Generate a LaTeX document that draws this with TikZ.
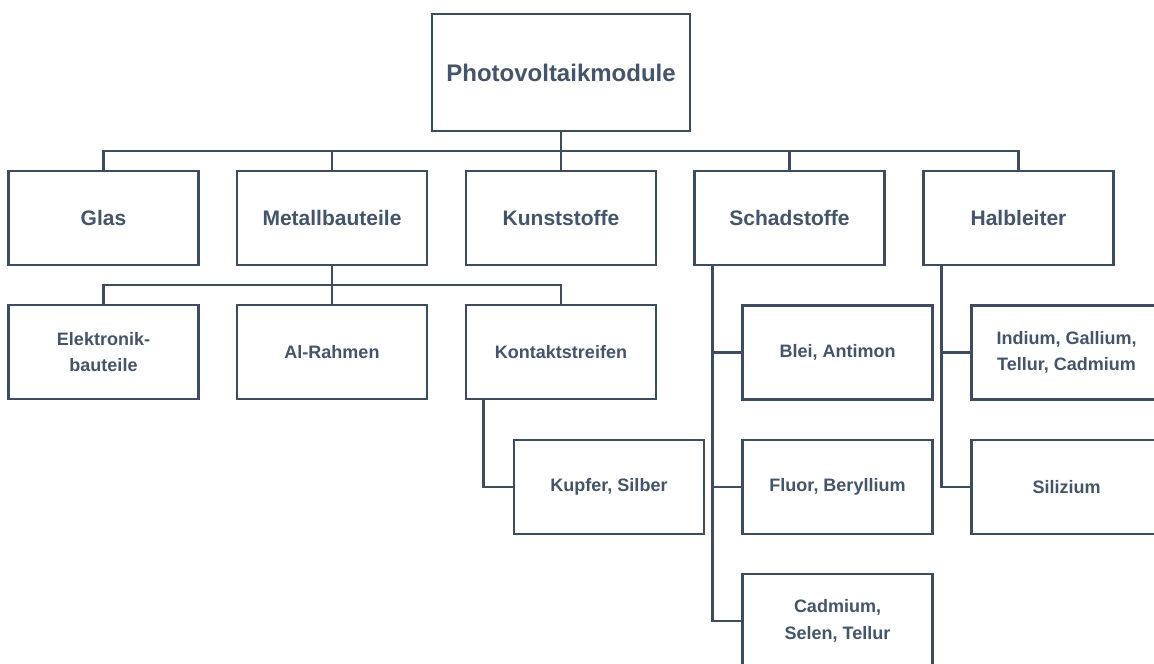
\documentclass[tikz,border=0pt]{standalone}
\usepackage{fontspec}
\setmainfont{Liberation Sans}
\definecolor{slate}{HTML}{44546A}
\definecolor{slateline}{HTML}{3E4C60}
\tikzset{
  box/.style={draw=slateline, line width=2.6pt, fill=white, text=slate, align=center,
    minimum width=190pt, minimum height=94pt, inner sep=0pt, font=\bfseries\fontsize{18}{26.5}\selectfont},
  topbox/.style={box, minimum width=258pt, minimum height=117pt, font=\bfseries\fontsize{24}{28}\selectfont},
  midbox/.style={box, font=\bfseries\fontsize{21}{25}\selectfont},
  conn/.style={draw=slateline, line width=2.6pt}
}
\begin{document}
\begin{tikzpicture}[x=1pt,y=-1pt]
\useasboundingbox (0,0) rectangle (1154,664);
\clip (0,0) rectangle (1154,664);
\node[topbox] (top) at (561,72.5) {Photovoltaikmodule};
\node[midbox] (glas) at (103.5,218) {Glas};
\node[midbox] (metall) at (332,218) {Metallbauteile};
\node[midbox] (kunst) at (561,218) {Kunststoffe};
\node[midbox] (schad) at (789.5,218) {Schadstoffe};
\node[midbox] (halb) at (1018.5,218) {Halbleiter};
\node[box] (elek) at (103.5,352) {Elektronik-\\bauteile};
\node[box] (alr) at (332,352) {Al-Rahmen};
\node[box] (kontakt) at (561,352) {Kontaktstreifen};
\node[box] (kupfer) at (609,487) {Kupfer, Silber};
\node[box] (blei) at (837.5,352.5) {Blei, Antimon};
\node[box] (fluor) at (837.5,487) {Fluor, Beryllium};
\node[box] (cad) at (837.5,621) {Cadmium,\\Selen, Tellur};
\node[box] (indium) at (1066.5,352.5) {Indium, Gallium,\\Tellur, Cadmium};
\node[box] (sili) at (1066.5,487) {Silizium};
\coordinate (b1) at (561,151);
\coordinate (b2) at (332,285);
\draw[conn] (top.south) -- (b1);
\draw[conn] (glas.north) |- (b1);
\draw[conn] (metall.north) |- (b1);
\draw[conn] (kunst.north) -- (b1);
\draw[conn] (schad.north) |- (b1);
\draw[conn] (halb.north) |- (b1);
\draw[conn] (metall.south) -- (b2);
\draw[conn] (elek.north) |- (b2);
\draw[conn] (alr.north) -- (b2);
\draw[conn] (kontakt.north) |- (b2);
\draw[conn] ([xshift=19pt]kontakt.south west) |- (kupfer.west);
\draw[conn] ([xshift=19pt]schad.south west) |- (blei.west);
\draw[conn] ([xshift=19pt]schad.south west) |- (fluor.west);
\draw[conn] ([xshift=19pt]schad.south west) |- (cad.west);
\draw[conn] ([xshift=19pt]halb.south west) |- (indium.west);
\draw[conn] ([xshift=19pt]halb.south west) |- (sili.west);
\end{tikzpicture}
\end{document}
